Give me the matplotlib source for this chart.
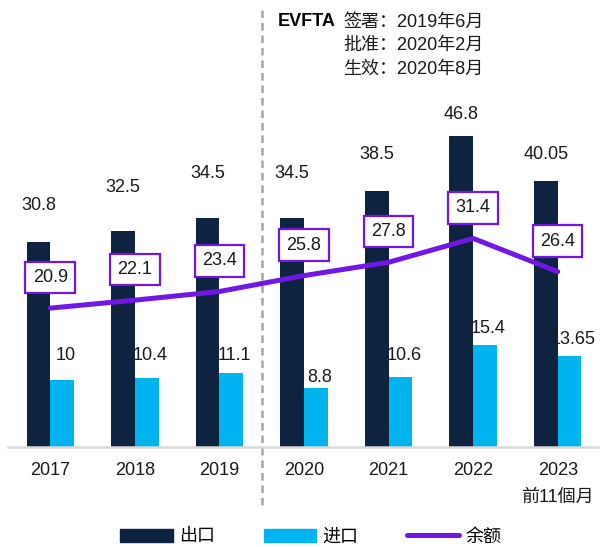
import numpy as np
import matplotlib.pyplot as plt
from matplotlib.lines import Line2D
from matplotlib.patches import Patch

plt.rcParams['font.family'] = ['Liberation Sans', 'Noto Sans CJK SC', 'DejaVu Sans']

# データ
years = ["2017", "2018", "2019", "2020", "2021", "2022", "2023\n前11個月"]
export_vals = [30.8, 32.5, 34.5, 34.5, 38.5, 46.8, 40.05]
import_vals = [10, 10.4, 11.1, 8.8, 10.6, 15.4, 13.65]
balance_vals = [20.9, 22.1, 23.4, 25.8, 27.8, 31.4, 26.4]
export_labels = ["30.8", "32.5", "34.5", "34.5", "38.5", "46.8", "40.05"]
import_labels = ["10", "10.4", "11.1", "8.8", "10.6", "15.4", "13.65"]

# ラベルの位置（データ単位）
export_lbl_y = [36.4, 39.0, 41.1, 41.1, 44.1, 50.0, 44.1]
import_lbl_y = [13.8, 13.8, 13.8, 10.4, 13.8, 17.8, 16.1]

c_exp = "#0D2340"
c_imp = "#00B5EF"
c_bal = "#7117E5"
c_txt = "#1a1a1a"
fs = 13

fig = plt.figure(figsize=(6.0, 5.47), dpi=100)
ax = fig.add_axes([0.0133, 0.183, 0.9867, 0.817])

x = np.arange(len(years))
w = 0.28
ax.bar(x - w / 2, export_vals, w, color=c_exp)
ax.bar(x + w / 2, import_vals, w, color=c_imp)
ax.plot(x, balance_vals, color=c_bal, lw=3.6, solid_capstyle='round', zorder=3)

for i in range(len(x)):
    ax.text(x[i] - w / 2, export_lbl_y[i], export_labels[i], ha='center', va='center',
            fontsize=fs, color=c_txt)
    ax.text(x[i] + w / 2 + 0.04, import_lbl_y[i], import_labels[i], ha='center', va='center',
            fontsize=fs, color=c_txt)
    ax.annotate(f"{balance_vals[i]}", (x[i], balance_vals[i]), xytext=(0, 22),
                textcoords='offset points', ha='center', va='center', fontsize=fs,
                color=c_txt, zorder=5,
                bbox=dict(boxstyle='square,pad=0.4', fc='white', ec=c_bal, lw=1.6))

ax.set_xlim(-0.5, 6.5)
ax.set_ylim(0, 67.3)
ax.set_xticks(x)
ax.set_xticklabels(years, fontsize=fs, linespacing=1.75, va='top', color=c_txt)
ax.tick_params(axis='x', length=0, pad=11)
ax.set_yticks([])
for s in ['top', 'right', 'left']:
    ax.spines[s].set_visible(False)
ax.spines['bottom'].set_color("#D9D9D9")
ax.spines['bottom'].set_linewidth(1.8)

# EVFTA の区切り線
ax.plot([2.5, 2.5], [-8.7, 65.8], color="#A6A6A6", lw=1.8, ls=(0, (3, 2)),
        clip_on=False, zorder=1)

ax.text(278 / 600, 1 - 22 / 547, "EVFTA", transform=fig.transFigure, fontsize=fs,
        fontweight='bold', ha='left', va='center', color='black')
for j, t in enumerate(["签署：2019年6月", "批准：2020年2月", "生效：2020年8月"]):
    ax.text(343 / 600, 1 - (22 + 23.5 * j) / 547, t, transform=fig.transFigure,
            fontsize=fs, ha='left', va='center', color=c_txt)

handles = [Patch(color=c_exp), Patch(color=c_imp),
           Line2D([0], [0], color=c_bal, lw=3.6, solid_capstyle='round')]
fig.legend(handles, ["出口", "进口", "余额"], loc='center',
           bbox_to_anchor=(0.5 + 11 / 600, 1 - 537 / 547),
           ncol=3, frameon=False, fontsize=fs, handlelength=2.9, handleheight=0.75,
           columnspacing=2.7, handletextpad=0.35)

fig.savefig("out.png", dpi=100)
